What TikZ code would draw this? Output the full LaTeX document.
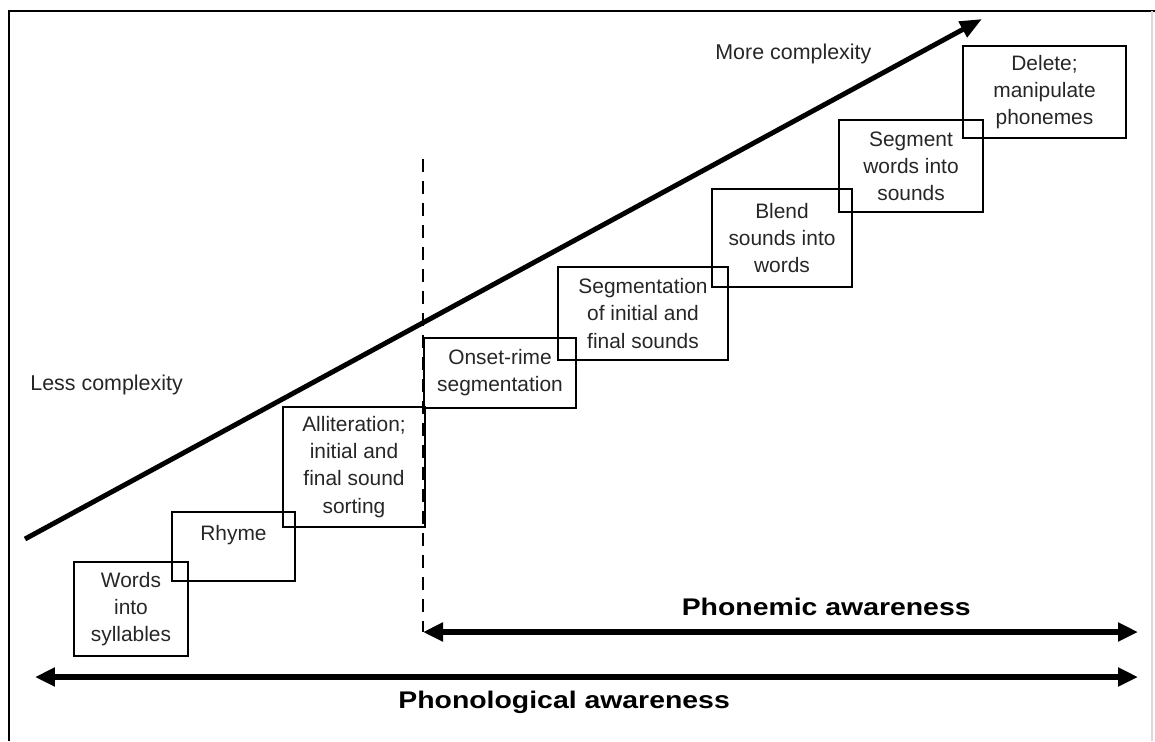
\documentclass[tikz,border=0pt]{standalone}
\usepackage{fontspec}
\setmainfont{Liberation Sans}
\newfontfamily\widefont[FakeStretch=1.18]{Liberation Sans}
\usetikzlibrary{arrows.meta}

\begin{document}
\begin{tikzpicture}[x=0.02cm, y=-0.02cm, every node/.style={font=\fontsize{11.9}{15.4}\selectfont, text=black!85, align=center}, stage/.style={draw=black, line width=1.5pt, inner sep=0pt}, label text/.style={inner sep=0pt, font=\fontsize{12.2}{14}\selectfont}, awareness/.style={inner sep=0pt, text=black, font=\widefont\bfseries\fontsize{13.7}{16}\selectfont}, rising/.style={line width=2.8pt, -{Triangle[length=0.44cm, width=0.34cm]}}, span/.style={line width=3pt, {Triangle[length=0.4cm, width=0.36cm]}-{Triangle[length=0.4cm, width=0.36cm]}}]
		\useasboundingbox (0,0) rectangle (1155,741);
		% frame
		\draw [line width=1.5pt] (9,741) -- (9,11) -- (1155,11);
		\draw [black!15, line width=0.8pt] (1152,11) -- (1152,741);
		
		\coordinate (low) at (25,539);
		\coordinate (high) at (982,19);
		\coordinate (split top) at (423,159);
		\coordinate (split) at (423,632);
		\coordinate (phonemic end) at (1138,632);
		\coordinate (phono start) at (35,677);
		\coordinate (phono end) at (1138,677);
		
		\node [stage, minimum width=2.28cm, minimum height=1.88cm] (1) at (131,609) {Words\\into\\syllables};
		\node [stage, minimum width=2.46cm, minimum height=1.38cm] (2) at (233.5,546.5) {Rhyme\\~};
		\node [stage, minimum width=2.84cm, minimum height=2.40cm] (3) at (354,467) {Alliteration;\\initial and\\final sound\\sorting};
		\node [stage, minimum width=3.04cm, minimum height=1.40cm] (4) at (500,373) {Onset-rime\\segmentation};
		\node [stage, minimum width=3.40cm, minimum height=1.86cm] (5) at (643,313.5) {Segmentation\\of initial and\\final sounds};
		\node [stage, minimum width=2.80cm, minimum height=1.96cm] (6) at (782,238) {Blend\\sounds into\\words};
		\node [stage, minimum width=2.88cm, minimum height=1.84cm] (7) at (911,166) {Segment\\words into\\sounds};
		\node [stage, minimum width=3.26cm, minimum height=1.84cm] (8) at (1044.5,92) {Delete;\\manipulate\\phonemes};
		
		\node [label text, anchor=base west] (less) at (30,390) {Less complexity};
		\node [label text, anchor=base west] (more) at (715,59) {More complexity};
		\node [awareness, anchor=base east] (phonemic) at (971,615) {Phonemic awareness};
		\node [awareness, anchor=base west] (phonological) at (398,708) {Phonological awareness};
		
		\draw [rising] (low) -- (high);
		\draw [line width=1.6pt, dash pattern=on 0.26cm off 0.18cm] (split top) -- (split);
		\draw [span] (split) -- (phonemic end);
		\draw [span] (phono start) -- (phono end);
		
	\end{tikzpicture}
\end{document}
